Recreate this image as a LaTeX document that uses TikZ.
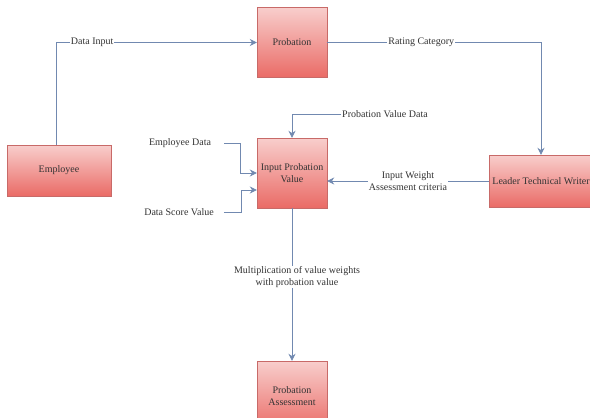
\documentclass[tikz,border=0pt]{standalone}
\usepackage{fontspec}
\setmainfont{Liberation Serif}
\usetikzlibrary{arrows.meta}
\definecolor{boxtop}{HTML}{F8CECC}
\definecolor{boxbot}{HTML}{EA6B66}
\definecolor{boxline}{HTML}{C86A68}
\definecolor{wirec}{HTML}{7189B0}

\begin{document}
\begin{tikzpicture}[
                x = 1pt, y = -1pt,
every node/.style = {font=\fontsize{10}{11.5}\selectfont, text=black!80},
       box/.style = {rectangle, draw=boxline, top color=boxtop,
                     bottom color=boxbot, minimum width=#1,
                     minimum height=70pt, inner sep=1pt, align=center},
      wire/.style = {draw=wirec, line width=0.8pt,
                     -{Stealth[length=7pt, width=7pt]}},
       lbl/.style = {fill=white, inner sep=1pt, align=center}
                        ]
\useasboundingbox (0,0) rectangle (590,418);
%
\node (Prob) [box=70pt] at (292,42.5) {Probation};
\node (Emp)  [box=104pt, minimum height=51pt] at (59,170.5) {Employee};
\node (Inp)  [box=70pt] at (292,173) {Input Probation\\Value};
\node (Lead) [box=104pt, minimum height=52pt] at (541,181) {Leader Technical Writer};
\node (Asm)  [box=70pt] at (292,396) {Probation\\Assessment};
%
\node (pvd) [lbl] at (385,114) {Probation Value Data};
\node (ed)  [lbl] at (180,143) {Employee Data};
\node (dsv) [lbl] at (179,212) {Data Score Value};
%
\draw [wire] ([xshift=-3pt]Emp.north) |- node[lbl, pos=0.59] {Data Input} (Prob.west);
\draw [wire] (Prob.east) -| node[lbl, pos=0.22] {Rating Category} (Lead.north);
\draw [wire] (Lead.west) -- node[lbl] {Input Weight\\Assessment criteria}
    (Inp.east |- Lead.west);
\draw [wire] (pvd.west) -| (Inp.north);
\draw [wire] ([xshift=12pt]ed.east) -- ++(16,0) |- (Inp.west);
\draw [wire] ([xshift=9pt]dsv.east) -- ++(17,0) |- ([yshift=-17pt]Inp.west);
\draw [wire] (Inp.south) -- node[lbl, pos=0.45, xshift=5pt]
    {Multiplication of value weights\\with probation value} (Asm.north);
    \end{tikzpicture}
\end{document}
